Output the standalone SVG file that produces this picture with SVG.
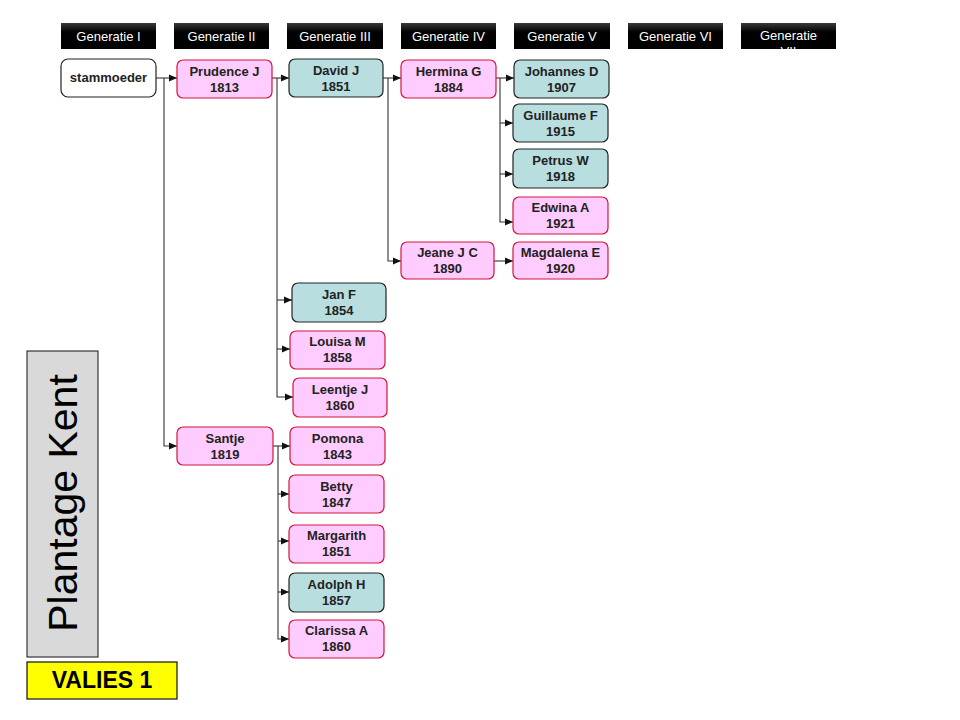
<svg xmlns="http://www.w3.org/2000/svg" width="960" height="720" viewBox="0 0 960 720">
<defs>
<linearGradient id="hdr" x1="0" y1="0" x2="0" y2="1">
<stop offset="0" stop-color="#3a3a3a"/>
<stop offset="0.35" stop-color="#000"/>
<stop offset="1" stop-color="#000"/>
</linearGradient>
<marker id="arr" markerUnits="userSpaceOnUse" markerWidth="9" markerHeight="8" refX="8" refY="4" orient="auto">
<path d="M0,0.5 L8,4 L0,7.5 z" fill="#111"/>
</marker>
<clipPath id="clip7"><rect x="741" y="23" width="95" height="26"/></clipPath>
</defs>
<style>
.hdr{fill:url(#hdr);}
.ht{font-family:"Liberation Sans",Arial,sans-serif;font-size:13px;fill:#fff;text-anchor:middle;}
.nt{font-family:"Liberation Sans",Arial,sans-serif;font-size:13px;font-weight:bold;fill:#222;text-anchor:middle;}
.pink{fill:#FFCCFF;stroke:#D4143C;stroke-width:1.2;}
.teal{fill:#B8DEE0;stroke:#222;stroke-width:1.2;}
.white{fill:#fff;stroke:#222;stroke-width:1.2;}
.cn{fill:none;stroke:#333;stroke-width:1.1;}
</style>
<rect width="960" height="720" fill="#fff"/>

<g id="headers">
<rect class="hdr" x="61" y="23" width="95" height="26"/><text class="ht" x="108.5" y="41">Generatie I</text>
<rect class="hdr" x="174" y="23" width="95" height="26"/><text class="ht" x="221.5" y="41">Generatie II</text>
<rect class="hdr" x="287" y="23" width="96" height="26"/><text class="ht" x="335" y="41">Generatie III</text>
<rect class="hdr" x="401" y="23" width="95" height="26"/><text class="ht" x="448.5" y="41">Generatie IV</text>
<rect class="hdr" x="514" y="23" width="96" height="26"/><text class="ht" x="562" y="41">Generatie V</text>
<rect class="hdr" x="628" y="23" width="95" height="26"/><text class="ht" x="675.5" y="41">Generatie VI</text>
<rect class="hdr" x="741" y="23" width="95" height="26"/>
<g clip-path="url(#clip7)"><text class="ht" x="788.5" y="40">Generatie</text><text class="ht" x="788.5" y="56">VII</text></g>
</g>

<g id="connectors">
<path class="cn" d="M156,78 H177" marker-end="url(#arr)"/>
<path class="cn" d="M164,78 V446 H177" marker-end="url(#arr)"/>
<path class="cn" d="M272,78 H289" marker-end="url(#arr)"/>
<path class="cn" d="M277,78 V397 H293" marker-end="url(#arr)"/>
<path class="cn" d="M277,300 H292" marker-end="url(#arr)"/>
<path class="cn" d="M277,349 H290" marker-end="url(#arr)"/>
<path class="cn" d="M383,78 H401" marker-end="url(#arr)"/>
<path class="cn" d="M388,78 V261 H401" marker-end="url(#arr)"/>
<path class="cn" d="M496,78 H514" marker-end="url(#arr)"/>
<path class="cn" d="M500,78 V222 H513" marker-end="url(#arr)"/>
<path class="cn" d="M500,123 H513" marker-end="url(#arr)"/>
<path class="cn" d="M500,174 H513" marker-end="url(#arr)"/>
<path class="cn" d="M494,261 H513" marker-end="url(#arr)"/>
<path class="cn" d="M273,446 H290" marker-end="url(#arr)"/>
<path class="cn" d="M278,446 V639 H289" marker-end="url(#arr)"/>
<path class="cn" d="M278,494 H289" marker-end="url(#arr)"/>
<path class="cn" d="M278,541 H289" marker-end="url(#arr)"/>
<path class="cn" d="M278,592 H289" marker-end="url(#arr)"/>
</g>

<g id="stammoeder"><rect class="white" x="61" y="59" width="95" height="38" rx="7"/><text class="nt" x="108.5" y="82">stammoeder</text></g>
<g id="prudence"><rect class="pink" x="177" y="60" width="95" height="38" rx="6"/><text class="nt" x="224.5" y="76">Prudence J</text><text class="nt" x="224.5" y="92">1813</text></g>
<g id="david"><rect class="teal" x="289" y="59" width="94" height="38" rx="6"/><text class="nt" x="336" y="75">David J</text><text class="nt" x="336" y="91">1851</text></g>
<g id="hermina"><rect class="pink" x="401" y="60" width="95" height="38" rx="6"/><text class="nt" x="448.5" y="76">Hermina G</text><text class="nt" x="448.5" y="92">1884</text></g>
<g id="johannes"><rect class="teal" x="514" y="60" width="95" height="38" rx="6"/><text class="nt" x="561.5" y="76">Johannes D</text><text class="nt" x="561.5" y="92">1907</text></g>
<g id="guillaume"><rect class="teal" x="513" y="104" width="95" height="38" rx="6"/><text class="nt" x="560.5" y="120">Guillaume F</text><text class="nt" x="560.5" y="136">1915</text></g>
<g id="petrus"><rect class="teal" x="513" y="149" width="95" height="39" rx="6"/><text class="nt" x="560.5" y="165">Petrus W</text><text class="nt" x="560.5" y="181">1918</text></g>
<g id="edwina"><rect class="pink" x="513" y="197" width="95" height="37" rx="6"/><text class="nt" x="560.5" y="212">Edwina A</text><text class="nt" x="560.5" y="228">1921</text></g>
<g id="jeane"><rect class="pink" x="401" y="242" width="93" height="37" rx="6"/><text class="nt" x="447.5" y="257">Jeane J C</text><text class="nt" x="447.5" y="273">1890</text></g>
<g id="magdalena"><rect class="pink" x="513" y="242" width="95" height="37" rx="6"/><text class="nt" x="560.5" y="257">Magdalena E</text><text class="nt" x="560.5" y="273">1920</text></g>
<g id="janf"><rect class="teal" x="292" y="283" width="94" height="39" rx="6"/><text class="nt" x="339" y="299">Jan F</text><text class="nt" x="339" y="315">1854</text></g>
<g id="louisa"><rect class="pink" x="290" y="331" width="95" height="38" rx="6"/><text class="nt" x="337.5" y="346">Louisa M</text><text class="nt" x="337.5" y="362">1858</text></g>
<g id="leentje"><rect class="pink" x="293" y="378" width="94" height="39" rx="6"/><text class="nt" x="340" y="394">Leentje J</text><text class="nt" x="340" y="410">1860</text></g>
<g id="santje"><rect class="pink" x="177" y="427" width="96" height="38" rx="6"/><text class="nt" x="225" y="443">Santje</text><text class="nt" x="225" y="459">1819</text></g>
<g id="pomona"><rect class="pink" x="290" y="427" width="95" height="38" rx="6"/><text class="nt" x="337.5" y="443">Pomona</text><text class="nt" x="337.5" y="459">1843</text></g>
<g id="betty"><rect class="pink" x="289" y="475" width="95" height="38" rx="6"/><text class="nt" x="336.5" y="491">Betty</text><text class="nt" x="336.5" y="507">1847</text></g>
<g id="margarith"><rect class="pink" x="289" y="525" width="95" height="38" rx="6"/><text class="nt" x="336.5" y="540">Margarith</text><text class="nt" x="336.5" y="556">1851</text></g>
<g id="adolph"><rect class="teal" x="289" y="573" width="95" height="39" rx="6"/><text class="nt" x="336.5" y="589">Adolph H</text><text class="nt" x="336.5" y="605">1857</text></g>
<g id="clarissa"><rect class="pink" x="289" y="620" width="95" height="38" rx="6"/><text class="nt" x="336.5" y="635">Clarissa A</text><text class="nt" x="336.5" y="651">1860</text></g>

<g id="plantage">
<rect x="27" y="351" width="71" height="306" fill="#D9D9D9" stroke="#111" stroke-width="1"/>
<text transform="translate(77,503) rotate(-90)" font-family="Liberation Sans, Arial, sans-serif" font-size="41" fill="#000" text-anchor="middle">Plantage Kent</text>
</g>
<g id="valies">
<rect x="27" y="662" width="150" height="37" fill="#FFFF00" stroke="#111" stroke-width="1.2"/>
<text x="102" y="688" font-family="Liberation Sans, Arial, sans-serif" font-size="23" font-weight="bold" fill="#000" text-anchor="middle">VALIES 1</text>
</g>
</svg>
